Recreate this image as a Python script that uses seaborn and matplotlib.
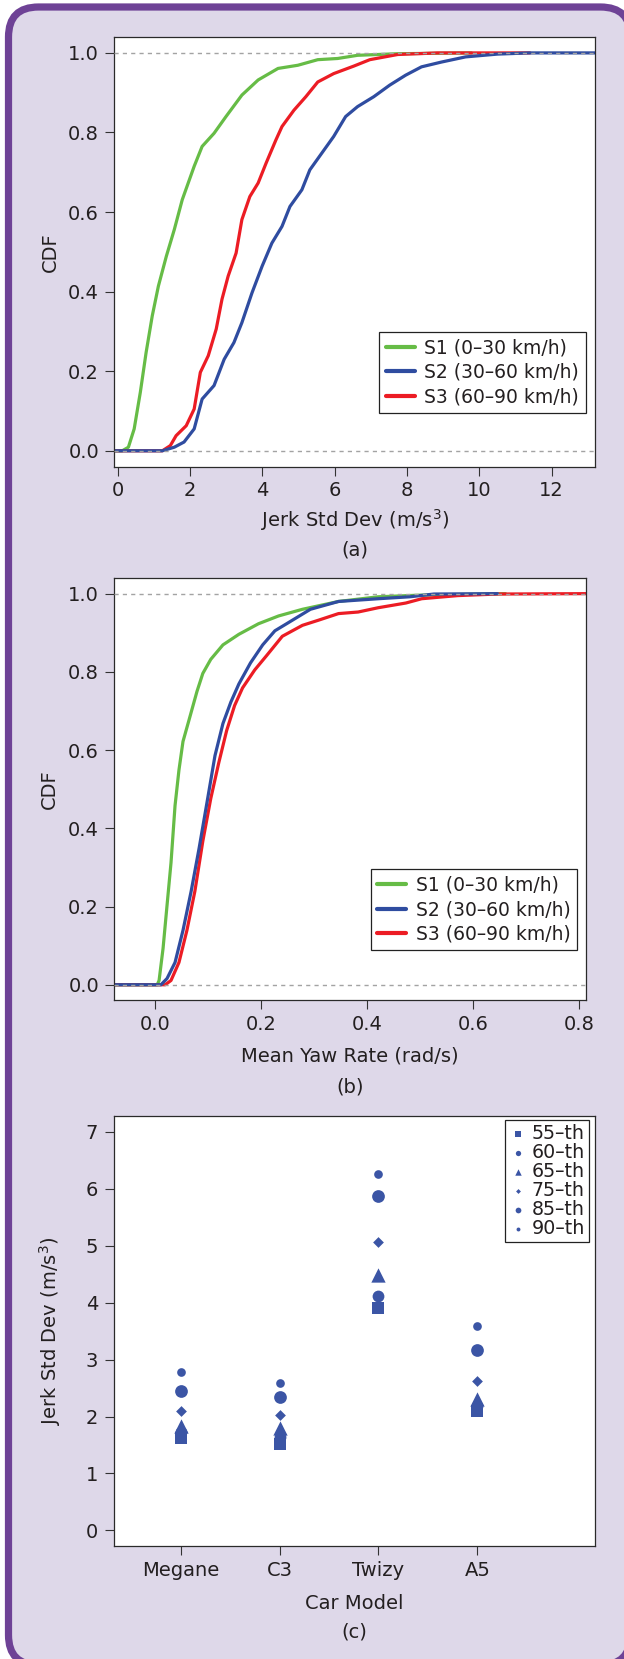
import matplotlib
matplotlib.use("Agg")
import matplotlib.pyplot as plt
from matplotlib.patches import FancyBboxPatch
from matplotlib.ticker import FormatStrFormatter
import seaborn as sns

# ---------------- data: panel (a) CDF of jerk std dev ----------------
a_s1_x = [-0.10, 0.12, 0.29, 0.45, 0.62, 0.78, 0.95, 1.12, 1.34, 1.56, 1.78, 2.11,
          2.33, 2.66, 2.99, 3.43, 3.88, 4.43, 4.98, 5.53, 6.08, 6.63, 7.74, 9.78]
a_s1_cdf = [0.000, 0.000, 0.009, 0.055, 0.147, 0.247, 0.339, 0.414, 0.489, 0.556, 0.631, 0.715,
            0.765, 0.798, 0.840, 0.894, 0.932, 0.961, 0.969, 0.983, 0.986, 0.994, 0.998, 1.000]

a_s2_x = [-0.10, 1.23, 1.56, 1.83, 2.11, 2.33, 2.66, 2.94, 3.21, 3.43, 3.71, 3.99, 4.26, 4.54,
          4.76, 5.09, 5.31, 5.64, 5.97, 6.30, 6.63, 7.08, 7.52, 7.96, 8.40, 8.95, 9.62, 10.50,
          11.38, 13.20]
a_s2_cdf = [0.000, 0.000, 0.009, 0.022, 0.055, 0.130, 0.164, 0.230, 0.272, 0.322, 0.397, 0.464,
            0.522, 0.564, 0.614, 0.656, 0.706, 0.748, 0.790, 0.840, 0.865, 0.890, 0.919, 0.944,
            0.965, 0.977, 0.990, 0.997, 1.000, 1.000]

a_s3_x = [-0.10, 1.23, 1.45, 1.61, 1.89, 2.11, 2.28, 2.50, 2.72, 2.88, 3.05, 3.27, 3.43, 3.65,
          3.88, 4.10, 4.37, 4.54, 4.87, 5.20, 5.53, 5.97, 6.53, 6.97, 7.74, 8.84, 11.40]
a_s3_cdf = [0.000, 0.000, 0.013, 0.038, 0.063, 0.105, 0.197, 0.239, 0.306, 0.381, 0.439, 0.497,
            0.581, 0.639, 0.673, 0.723, 0.781, 0.815, 0.856, 0.890, 0.927, 0.948, 0.967, 0.983,
            0.996, 1.000, 1.000]

# ---------------- data: panel (b) CDF of mean yaw rate ----------------
b_s1_x = [-0.077, 0.004, 0.0075, 0.015, 0.0225, 0.030, 0.0376, 0.045, 0.0526, 0.064, 0.079,
          0.090, 0.105, 0.128, 0.158, 0.195, 0.233, 0.278, 0.346, 0.421, 0.496, 0.661]
b_s1_cdf = [0.000, 0.000, 0.011, 0.093, 0.203, 0.312, 0.458, 0.549, 0.622, 0.677, 0.750,
            0.796, 0.832, 0.869, 0.896, 0.923, 0.943, 0.960, 0.980, 0.992, 0.996, 1.000]

b_s2_x = [-0.077, 0.011, 0.0225, 0.0376, 0.0526, 0.068, 0.083, 0.098, 0.113, 0.128, 0.143,
          0.158, 0.180, 0.203, 0.226, 0.248, 0.293, 0.346, 0.421, 0.481, 0.526, 0.646]
b_s2_cdf = [0.000, 0.000, 0.016, 0.057, 0.139, 0.239, 0.349, 0.467, 0.586, 0.668, 0.723,
            0.769, 0.823, 0.869, 0.905, 0.923, 0.960, 0.980, 0.987, 0.992, 0.999, 1.000]

b_s3_x = [-0.077, 0.019, 0.030, 0.045, 0.060, 0.075, 0.090, 0.105, 0.120, 0.135, 0.150, 0.165,
          0.188, 0.210, 0.240, 0.278, 0.308, 0.346, 0.383, 0.421, 0.473, 0.503, 0.571, 0.646,
          0.813]
b_s3_cdf = [0.000, 0.000, 0.011, 0.057, 0.139, 0.239, 0.367, 0.476, 0.567, 0.650, 0.714, 0.759,
            0.805, 0.841, 0.891, 0.919, 0.932, 0.949, 0.953, 0.964, 0.976, 0.987, 0.995, 0.999,
            1.000]

series_labels = ["S1 (0\u201330 km/h)", "S2 (30\u201360 km/h)", "S3 (60\u201390 km/h)"]

# ---------------- data: panel (c) percentiles per car model ----------------
car_models = ["Megane", "C3", "Twizy", "A5"]
pct_labels = ["55\u2013th", "60\u2013th", "65\u2013th", "75\u2013th", "85\u2013th", "90\u2013th"]
p55 = [1.63, 1.52, 3.90, 2.09]
p60 = [1.72, 1.64, 4.12, 2.19]
p65 = [1.84, 1.79, 4.49, 2.31]
p75 = [2.09, 2.02, 5.06, 2.63]
p85 = [2.44, 2.34, 5.88, 3.17]
p90 = [2.78, 2.59, 6.25, 3.59]

# ---------------- styling ----------------
GREEN = "#66BC46"
BLUE = "#2F4CA0"
RED = "#EC1C24"
MARK = "#3B55A5"
LAVENDER = "#DED8E9"
PURPLE = "#6E4296"
TXT = "#231F20"
DASH = "#A3A3A3"

sns.set_style("ticks")
plt.rcParams["font.family"] = ["DejaVu Sans"]
plt.rcParams["mathtext.fontset"] = "dejavusans"
plt.rcParams["text.color"] = TXT
plt.rcParams["axes.labelcolor"] = TXT
plt.rcParams["xtick.color"] = "#333333"
plt.rcParams["ytick.color"] = "#333333"
plt.rcParams["xtick.labelcolor"] = TXT
plt.rcParams["ytick.labelcolor"] = TXT
plt.rcParams["axes.edgecolor"] = "#2a2a2a"

W, H = 624, 1659
fig = plt.figure(figsize=(W / 100, H / 100), dpi=100, facecolor="white")

# background framed panel
bg = fig.add_axes([0, 0, 1, 1], zorder=-10)
bg.set_xlim(0, W)
bg.set_ylim(H, 0)
bg.axis("off")
bg.add_patch(FancyBboxPatch((8.5, 7.0), 622, 1658,
                            boxstyle="round,pad=0,rounding_size=30",
                            facecolor=LAVENDER, edgecolor=PURPLE, linewidth=5.2))


def ax_rect(left, top, right, bottom):
    return [left / W, 1 - bottom / H, (right - left) / W, (bottom - top) / H]


def style_axes(ax, size=14):
    ax.set_facecolor("white")
    for sp in ax.spines.values():
        sp.set_visible(True)
        sp.set_linewidth(0.9)
        sp.set_color("#2a2a2a")
    ax.tick_params(axis="both", direction="out", length=6.5, width=0.8,
                   labelsize=size)
    ax.tick_params(axis="x", pad=4.0)
    ax.tick_params(axis="y", pad=4.5)


def cdf_panel(ax, data, xlim, xticks, xfmt, xlabel, leg_anchor):
    order = [(0, GREEN), (2, RED), (1, BLUE)]
    for idx, col in order:
        xs, ys = data[idx]
        sns.lineplot(x=xs, y=ys, ax=ax, color=col, linewidth=2.3, sort=False,
                     estimator=None, label=series_labels[idx], zorder=2)
    for yv in (0.0, 1.0):
        ax.axhline(yv, color=DASH, linestyle=(0, (3, 3)), linewidth=1.0, zorder=3)
    ax.set_xlim(*xlim)
    ax.set_ylim(-0.04, 1.04)
    ax.set_xticks(xticks)
    ax.set_yticks([0.0, 0.2, 0.4, 0.6, 0.8, 1.0])
    ax.xaxis.set_major_formatter(FormatStrFormatter(xfmt))
    ax.yaxis.set_major_formatter(FormatStrFormatter("%.1f"))
    style_axes(ax)
    ax.set_xlabel(xlabel, fontsize=14, va="center")
    ax.set_ylabel("CDF", fontsize=14, va="center")
    handles, labels = ax.get_legend_handles_labels()
    lut = dict(zip(labels, handles))
    leg = ax.legend([lut[l] for l in series_labels], series_labels,
                    loc="upper right", bbox_to_anchor=leg_anchor, borderaxespad=0,
                    fontsize=13.5, frameon=True, fancybox=False, framealpha=1,
                    edgecolor="#222222", borderpad=0.35, labelspacing=0.3,
                    handlelength=1.55, handletextpad=0.5)
    leg.get_frame().set_linewidth(0.9)
    for ln in leg.get_lines():
        ln.set_linewidth(3.0)
    return ax


# ---------------- panel (a) ----------------
ax1 = fig.add_axes(ax_rect(114.3, 37.0, 595.0, 466.7))
cdf_panel(ax1, [(a_s1_x, a_s1_cdf), (a_s2_x, a_s2_cdf), (a_s3_x, a_s3_cdf)],
          (-0.10, 13.2), list(range(0, 13, 2)), "%d", "Jerk Std Dev (m/s$^3$)",
          (0.9807, 0.3142))
ax1.xaxis.set_label_coords(0.5, -0.124)
ax1.yaxis.set_label_coords(-0.134, 0.5)
ax1.text(0.5, -0.194, "(a)", transform=ax1.transAxes, ha="center", va="center", fontsize=14)

# ---------------- panel (b) ----------------
ax2 = fig.add_axes(ax_rect(114.3, 578.0, 586.0, 1000.4))
cdf_panel(ax2, [(b_s1_x, b_s1_cdf), (b_s2_x, b_s2_cdf), (b_s3_x, b_s3_cdf)],
          (-0.077, 0.813), [0.0, 0.2, 0.4, 0.6, 0.8], "%.1f", "Mean Yaw Rate (rad/s)",
          (0.981, 0.311))
ax2.xaxis.set_label_coords(0.5, -0.131)
ax2.yaxis.set_label_coords(-0.137, 0.5)
ax2.text(0.5, -0.205, "(b)", transform=ax2.transAxes, ha="center", va="center", fontsize=14)

# ---------------- panel (c) ----------------
ax3 = fig.add_axes(ax_rect(113.5, 1115.8, 595.0, 1546.4))
marker_specs = [(p55, "s", 74), (p60, "o", 72), (p65, "^", 106),
                (p75, "D", 30), (p85, "o", 84), (p90, "o", 39)]
for (vals, mk, sz), lab in zip(marker_specs, pct_labels):
    sns.scatterplot(x=car_models, y=vals, ax=ax3, marker=mk, s=sz, color=MARK,
                    linewidth=0, label=lab, zorder=3)
ax3.set_xlim(-0.68, 4.19)
ax3.set_ylim(-0.28, 7.28)
ax3.set_yticks(range(0, 8))
style_axes(ax3)
ax3.set_xlabel("Car Model", fontsize=14, va="center")
ax3.set_ylabel("Jerk Std Dev (m/s$^3$)", fontsize=14, va="center")
ax3.xaxis.set_label_coords(0.5, -0.133)
ax3.yaxis.set_label_coords(-0.132, 0.5)
ax3.text(0.5, -0.199, "(c)", transform=ax3.transAxes, ha="center", va="center", fontsize=14)
leg3 = ax3.legend(loc="upper right", bbox_to_anchor=(0.987, 0.990), borderaxespad=0,
                  fontsize=13.7, frameon=True, fancybox=False, framealpha=1,
                  edgecolor="#222222", borderpad=0.2, labelspacing=0.0,
                  handlelength=1.0, handletextpad=0.22, markerscale=0.45)
leg3.get_frame().set_linewidth(0.9)

fig.savefig("out.png", dpi=100, facecolor="white")
